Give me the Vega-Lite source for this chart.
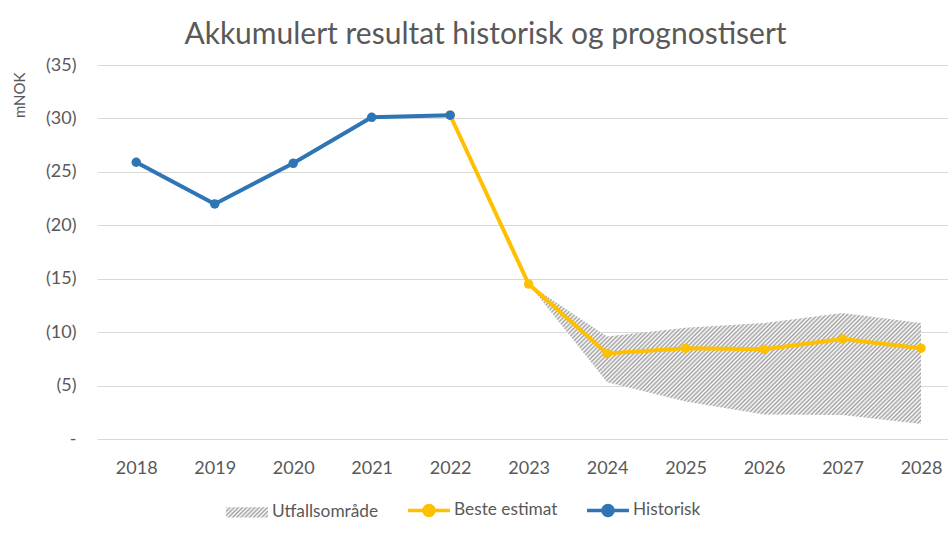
{
  "$schema": "https://vega.github.io/schema/vega-lite/v6.json",
  "width": 851,
  "height": 374,
  "autosize": {"type": "none"},
  "padding": {"left": 97, "top": 65, "right": 0, "bottom": 94},
  "background": "white",
  "title": {"text": "Akkumulert resultat historisk og prognostisert"},
  "datasets": {
    "lines": [
      {"year": 2018, "series": "Historisk", "value": 25.9},
      {"year": 2019, "series": "Historisk", "value": 22.0},
      {"year": 2020, "series": "Historisk", "value": 25.8},
      {"year": 2021, "series": "Historisk", "value": 30.1},
      {"year": 2022, "series": "Historisk", "value": 30.3},
      {"year": 2022, "series": "Beste estimat", "value": 30.3},
      {"year": 2023, "series": "Beste estimat", "value": 14.5},
      {"year": 2024, "series": "Beste estimat", "value": 8.0},
      {"year": 2025, "series": "Beste estimat", "value": 8.5},
      {"year": 2026, "series": "Beste estimat", "value": 8.4},
      {"year": 2027, "series": "Beste estimat", "value": 9.35},
      {"year": 2028, "series": "Beste estimat", "value": 8.5}
    ],
    "range": [
      {"year": 2023, "low": 14.5, "high": 14.5},
      {"year": 2024, "low": 5.3, "high": 9.6},
      {"year": 2025, "low": 3.5, "high": 10.4},
      {"year": 2026, "low": 2.3, "high": 10.85},
      {"year": 2027, "low": 2.25, "high": 11.8},
      {"year": 2028, "low": 1.4, "high": 10.85}
    ]
  },
  "layer": [
    {
      "data": {"name": "range"},
      "mark": {
        "type": "area",
        "opacity": 1,
        "fill": {
          "gradient": "linear", "x1": 0, "y1": 0, "x2": 1.204, "y2": 0.43,
          "stops": [
            {"offset":0,"color":"#a0a0a0"},{"offset":0.004,"color":"#fff"},{"offset":0.008,"color":"#a0a0a0"},{"offset":0.012,"color":"#fff"},{"offset":0.016,"color":"#a0a0a0"},{"offset":0.02,"color":"#fff"},{"offset":0.024,"color":"#a0a0a0"},{"offset":0.028,"color":"#fff"},{"offset":0.032,"color":"#a0a0a0"},{"offset":0.036,"color":"#fff"},
            {"offset":0.04,"color":"#a0a0a0"},{"offset":0.044,"color":"#fff"},{"offset":0.048,"color":"#a0a0a0"},{"offset":0.052,"color":"#fff"},{"offset":0.056,"color":"#a0a0a0"},{"offset":0.06,"color":"#fff"},{"offset":0.064,"color":"#a0a0a0"},{"offset":0.068,"color":"#fff"},{"offset":0.072,"color":"#a0a0a0"},{"offset":0.076,"color":"#fff"},
            {"offset":0.08,"color":"#a0a0a0"},{"offset":0.084,"color":"#fff"},{"offset":0.088,"color":"#a0a0a0"},{"offset":0.092,"color":"#fff"},{"offset":0.096,"color":"#a0a0a0"},{"offset":0.1,"color":"#fff"},{"offset":0.104,"color":"#a0a0a0"},{"offset":0.108,"color":"#fff"},{"offset":0.112,"color":"#a0a0a0"},{"offset":0.116,"color":"#fff"},
            {"offset":0.12,"color":"#a0a0a0"},{"offset":0.124,"color":"#fff"},{"offset":0.128,"color":"#a0a0a0"},{"offset":0.132,"color":"#fff"},{"offset":0.136,"color":"#a0a0a0"},{"offset":0.14,"color":"#fff"},{"offset":0.144,"color":"#a0a0a0"},{"offset":0.148,"color":"#fff"},{"offset":0.152,"color":"#a0a0a0"},{"offset":0.156,"color":"#fff"},
            {"offset":0.16,"color":"#a0a0a0"},{"offset":0.164,"color":"#fff"},{"offset":0.168,"color":"#a0a0a0"},{"offset":0.172,"color":"#fff"},{"offset":0.176,"color":"#a0a0a0"},{"offset":0.18,"color":"#fff"},{"offset":0.184,"color":"#a0a0a0"},{"offset":0.188,"color":"#fff"},{"offset":0.192,"color":"#a0a0a0"},{"offset":0.196,"color":"#fff"},
            {"offset":0.2,"color":"#a0a0a0"},{"offset":0.204,"color":"#fff"},{"offset":0.208,"color":"#a0a0a0"},{"offset":0.212,"color":"#fff"},{"offset":0.216,"color":"#a0a0a0"},{"offset":0.22,"color":"#fff"},{"offset":0.224,"color":"#a0a0a0"},{"offset":0.228,"color":"#fff"},{"offset":0.232,"color":"#a0a0a0"},{"offset":0.236,"color":"#fff"},
            {"offset":0.24,"color":"#a0a0a0"},{"offset":0.244,"color":"#fff"},{"offset":0.248,"color":"#a0a0a0"},{"offset":0.252,"color":"#fff"},{"offset":0.256,"color":"#a0a0a0"},{"offset":0.26,"color":"#fff"},{"offset":0.264,"color":"#a0a0a0"},{"offset":0.268,"color":"#fff"},{"offset":0.272,"color":"#a0a0a0"},{"offset":0.276,"color":"#fff"},
            {"offset":0.28,"color":"#a0a0a0"},{"offset":0.284,"color":"#fff"},{"offset":0.288,"color":"#a0a0a0"},{"offset":0.292,"color":"#fff"},{"offset":0.296,"color":"#a0a0a0"},{"offset":0.3,"color":"#fff"},{"offset":0.304,"color":"#a0a0a0"},{"offset":0.308,"color":"#fff"},{"offset":0.312,"color":"#a0a0a0"},{"offset":0.316,"color":"#fff"},
            {"offset":0.32,"color":"#a0a0a0"},{"offset":0.324,"color":"#fff"},{"offset":0.328,"color":"#a0a0a0"},{"offset":0.332,"color":"#fff"},{"offset":0.336,"color":"#a0a0a0"},{"offset":0.34,"color":"#fff"},{"offset":0.344,"color":"#a0a0a0"},{"offset":0.348,"color":"#fff"},{"offset":0.352,"color":"#a0a0a0"},{"offset":0.356,"color":"#fff"},
            {"offset":0.36,"color":"#a0a0a0"},{"offset":0.364,"color":"#fff"},{"offset":0.368,"color":"#a0a0a0"},{"offset":0.372,"color":"#fff"},{"offset":0.376,"color":"#a0a0a0"},{"offset":0.38,"color":"#fff"},{"offset":0.384,"color":"#a0a0a0"},{"offset":0.388,"color":"#fff"},{"offset":0.392,"color":"#a0a0a0"},{"offset":0.396,"color":"#fff"},
            {"offset":0.4,"color":"#a0a0a0"},{"offset":0.404,"color":"#fff"},{"offset":0.408,"color":"#a0a0a0"},{"offset":0.412,"color":"#fff"},{"offset":0.416,"color":"#a0a0a0"},{"offset":0.42,"color":"#fff"},{"offset":0.424,"color":"#a0a0a0"},{"offset":0.428,"color":"#fff"},{"offset":0.432,"color":"#a0a0a0"},{"offset":0.436,"color":"#fff"},
            {"offset":0.44,"color":"#a0a0a0"},{"offset":0.444,"color":"#fff"},{"offset":0.448,"color":"#a0a0a0"},{"offset":0.452,"color":"#fff"},{"offset":0.456,"color":"#a0a0a0"},{"offset":0.46,"color":"#fff"},{"offset":0.464,"color":"#a0a0a0"},{"offset":0.468,"color":"#fff"},{"offset":0.472,"color":"#a0a0a0"},{"offset":0.476,"color":"#fff"},
            {"offset":0.48,"color":"#a0a0a0"},{"offset":0.484,"color":"#fff"},{"offset":0.488,"color":"#a0a0a0"},{"offset":0.492,"color":"#fff"},{"offset":0.496,"color":"#a0a0a0"},{"offset":0.5,"color":"#fff"},{"offset":0.504,"color":"#a0a0a0"},{"offset":0.508,"color":"#fff"},{"offset":0.512,"color":"#a0a0a0"},{"offset":0.516,"color":"#fff"},
            {"offset":0.52,"color":"#a0a0a0"},{"offset":0.524,"color":"#fff"},{"offset":0.528,"color":"#a0a0a0"},{"offset":0.532,"color":"#fff"},{"offset":0.536,"color":"#a0a0a0"},{"offset":0.54,"color":"#fff"},{"offset":0.544,"color":"#a0a0a0"},{"offset":0.548,"color":"#fff"},{"offset":0.552,"color":"#a0a0a0"},{"offset":0.556,"color":"#fff"},
            {"offset":0.56,"color":"#a0a0a0"},{"offset":0.564,"color":"#fff"},{"offset":0.568,"color":"#a0a0a0"},{"offset":0.572,"color":"#fff"},{"offset":0.576,"color":"#a0a0a0"},{"offset":0.58,"color":"#fff"},{"offset":0.584,"color":"#a0a0a0"},{"offset":0.588,"color":"#fff"},{"offset":0.592,"color":"#a0a0a0"},{"offset":0.596,"color":"#fff"},
            {"offset":0.6,"color":"#a0a0a0"},{"offset":0.604,"color":"#fff"},{"offset":0.608,"color":"#a0a0a0"},{"offset":0.612,"color":"#fff"},{"offset":0.616,"color":"#a0a0a0"},{"offset":0.62,"color":"#fff"},{"offset":0.624,"color":"#a0a0a0"},{"offset":0.628,"color":"#fff"},{"offset":0.632,"color":"#a0a0a0"},{"offset":0.636,"color":"#fff"},
            {"offset":0.64,"color":"#a0a0a0"},{"offset":0.644,"color":"#fff"},{"offset":0.648,"color":"#a0a0a0"},{"offset":0.652,"color":"#fff"},{"offset":0.656,"color":"#a0a0a0"},{"offset":0.66,"color":"#fff"},{"offset":0.664,"color":"#a0a0a0"},{"offset":0.668,"color":"#fff"},{"offset":0.672,"color":"#a0a0a0"},{"offset":0.676,"color":"#fff"},
            {"offset":0.68,"color":"#a0a0a0"},{"offset":0.684,"color":"#fff"},{"offset":0.688,"color":"#a0a0a0"},{"offset":0.692,"color":"#fff"},{"offset":0.696,"color":"#a0a0a0"},{"offset":0.7,"color":"#fff"},{"offset":0.704,"color":"#a0a0a0"},{"offset":0.708,"color":"#fff"},{"offset":0.712,"color":"#a0a0a0"},{"offset":0.716,"color":"#fff"},
            {"offset":0.72,"color":"#a0a0a0"},{"offset":0.724,"color":"#fff"},{"offset":0.728,"color":"#a0a0a0"},{"offset":0.732,"color":"#fff"},{"offset":0.736,"color":"#a0a0a0"},{"offset":0.74,"color":"#fff"},{"offset":0.744,"color":"#a0a0a0"},{"offset":0.748,"color":"#fff"},{"offset":0.752,"color":"#a0a0a0"},{"offset":0.756,"color":"#fff"},
            {"offset":0.76,"color":"#a0a0a0"},{"offset":0.764,"color":"#fff"},{"offset":0.768,"color":"#a0a0a0"},{"offset":0.772,"color":"#fff"},{"offset":0.776,"color":"#a0a0a0"},{"offset":0.78,"color":"#fff"},{"offset":0.784,"color":"#a0a0a0"},{"offset":0.788,"color":"#fff"},{"offset":0.792,"color":"#a0a0a0"},{"offset":0.796,"color":"#fff"},
            {"offset":0.8,"color":"#a0a0a0"},{"offset":0.804,"color":"#fff"},{"offset":0.808,"color":"#a0a0a0"},{"offset":0.812,"color":"#fff"},{"offset":0.816,"color":"#a0a0a0"},{"offset":0.82,"color":"#fff"},{"offset":0.824,"color":"#a0a0a0"},{"offset":0.828,"color":"#fff"},{"offset":0.832,"color":"#a0a0a0"},{"offset":0.836,"color":"#fff"},
            {"offset":0.84,"color":"#a0a0a0"},{"offset":0.844,"color":"#fff"},{"offset":0.848,"color":"#a0a0a0"},{"offset":0.852,"color":"#fff"},{"offset":0.856,"color":"#a0a0a0"},{"offset":0.86,"color":"#fff"},{"offset":0.864,"color":"#a0a0a0"},{"offset":0.868,"color":"#fff"},{"offset":0.872,"color":"#a0a0a0"},{"offset":0.876,"color":"#fff"},
            {"offset":0.88,"color":"#a0a0a0"},{"offset":0.884,"color":"#fff"},{"offset":0.888,"color":"#a0a0a0"},{"offset":0.892,"color":"#fff"},{"offset":0.896,"color":"#a0a0a0"},{"offset":0.9,"color":"#fff"},{"offset":0.904,"color":"#a0a0a0"},{"offset":0.908,"color":"#fff"},{"offset":0.912,"color":"#a0a0a0"},{"offset":0.916,"color":"#fff"},
            {"offset":0.92,"color":"#a0a0a0"},{"offset":0.924,"color":"#fff"},{"offset":0.928,"color":"#a0a0a0"},{"offset":0.932,"color":"#fff"},{"offset":0.936,"color":"#a0a0a0"},{"offset":0.94,"color":"#fff"},{"offset":0.944,"color":"#a0a0a0"},{"offset":0.948,"color":"#fff"},{"offset":0.952,"color":"#a0a0a0"},{"offset":0.956,"color":"#fff"},
            {"offset":0.96,"color":"#a0a0a0"},{"offset":0.964,"color":"#fff"},{"offset":0.968,"color":"#a0a0a0"},{"offset":0.972,"color":"#fff"},{"offset":0.976,"color":"#a0a0a0"},{"offset":0.98,"color":"#fff"},{"offset":0.984,"color":"#a0a0a0"},{"offset":0.988,"color":"#fff"},{"offset":0.992,"color":"#a0a0a0"},{"offset":0.996,"color":"#fff"},
            {"offset":1,"color":"#a0a0a0"}
          ]
        }
      },
      "encoding": {
        "x": {"field": "year", "type": "quantitative", "scale": {"domain": [2017.5, 2028.344], "nice": false, "zero": false}, "axis": {"values": [2018, 2019, 2020, 2021, 2022, 2023, 2024, 2025, 2026, 2027, 2028], "format": "d", "title": null, "grid": false, "labelFlush": false}},
        "y": {"field": "high", "type": "quantitative", "scale": {"domain": [0, 35], "nice": false, "zero": true}, "title": "mNOK", "axis": {"values": [0, 5, 10, 15, 20, 25, 30, 35], "labelExpr": "datum.value == 0 ? '-\u00a0' : '(' + datum.value + ')'"}},
        "y2": {"field": "low"}
      }
    },
    {
      "data": {"name": "lines"},
      "transform": [{"filter": "datum.series === 'Beste estimat'"}],
      "mark": {"type": "line", "strokeWidth": 4, "point": {"filled": true, "size": 90, "opacity": 1}},
      "encoding": {
        "x": {"field": "year", "type": "quantitative"},
        "y": {"field": "value", "type": "quantitative", "title": "mNOK"},
        "color": {
          "field": "series", "type": "nominal",
          "scale": {
            "domain": ["Utfallsområde", "Beste estimat", "Historisk"],
            "range": [
              {"expr": "{gradient: 'linear', x1: 0, y1: 0, x2: 1.172, y2: 0.279, stops: [{offset: 0, color: '#a0a0a0'}, {offset: 0.04, color: '#fff'}, {offset: 0.08, color: '#a0a0a0'}, {offset: 0.12, color: '#fff'}, {offset: 0.16, color: '#a0a0a0'}, {offset: 0.2, color: '#fff'}, {offset: 0.24, color: '#a0a0a0'}, {offset: 0.28, color: '#fff'}, {offset: 0.32, color: '#a0a0a0'}, {offset: 0.36, color: '#fff'}, {offset: 0.4, color: '#a0a0a0'}, {offset: 0.44, color: '#fff'}, {offset: 0.48, color: '#a0a0a0'}, {offset: 0.52, color: '#fff'}, {offset: 0.56, color: '#a0a0a0'}, {offset: 0.6, color: '#fff'}, {offset: 0.64, color: '#a0a0a0'}, {offset: 0.68, color: '#fff'}, {offset: 0.72, color: '#a0a0a0'}, {offset: 0.76, color: '#fff'}, {offset: 0.8, color: '#a0a0a0'}, {offset: 0.84, color: '#fff'}, {offset: 0.88, color: '#a0a0a0'}, {offset: 0.92, color: '#fff'}, {offset: 0.96, color: '#a0a0a0'}, {offset: 1, color: '#fff'}]}"},
              "#FFC000",
              "#2E75B6"
            ]
          },
          "legend": {
            "title": null,
            "orient": "none",
            "direction": "horizontal",
            "legendX": 127,
            "legendY": 422,
            "symbolSize": 1764,
            "symbolStrokeWidth": 3.5,
            "labelOffset": 2,
            "columnPadding": 22,
            "encode": {
              "symbols": {
                "update": {
                  "shape": {"signal": "datum.value === 'Utfallsområde' ? 'M-1,-0.24H1V0.24H-1Z' : 'M-1,0H1M-0.24,0A0.24,0.24,0,1,0,0.24,0A0.24,0.24,0,1,0,-0.24,0Z'"},
                  "strokeWidth": {"value": 3.5},
                  "strokeOpacity": {"signal": "datum.value === 'Utfallsområde' ? 0 : 1"},
                  "opacity": {"value": 1}
                }
              }
            }
          }
        }
      }
    },
    {
      "data": {"name": "lines"},
      "transform": [{"filter": "datum.series === 'Historisk'"}],
      "mark": {"type": "line", "strokeWidth": 4, "point": {"filled": true, "size": 90, "opacity": 1}},
      "encoding": {
        "x": {"field": "year", "type": "quantitative"},
        "y": {"field": "value", "type": "quantitative", "title": "mNOK"},
        "color": {"field": "series", "type": "nominal"}
      }
    }
  ],
  "config": {
    "font": "Lato",
    "view": {"stroke": null},
    "title": {"font": "Lato", "fontSize": 30, "fontWeight": "normal", "color": "#595959", "anchor": "middle", "dx": -37, "offset": 6},
    "axis": {
      "labelFont": "Lato", "labelFontSize": 18, "labelColor": "#595959",
      "titleFont": "Lato", "titleFontSize": 15, "titleFontWeight": "normal", "titleColor": "#595959",
      "domain": false, "ticks": false, "tickSize": 0,
      "gridColor": "#D9D9D9", "gridWidth": 1
    },
    "axisX": {"labelPadding": 20},
    "axisY": {"grid": true, "labelPadding": 21, "titlePadding": 18, "titleAnchor": "end", "titleY": 7, "titleAlign": "right"},
    "legend": {"labelFont": "Lato", "labelFontSize": 17.3, "labelColor": "#595959"}
  }
}
